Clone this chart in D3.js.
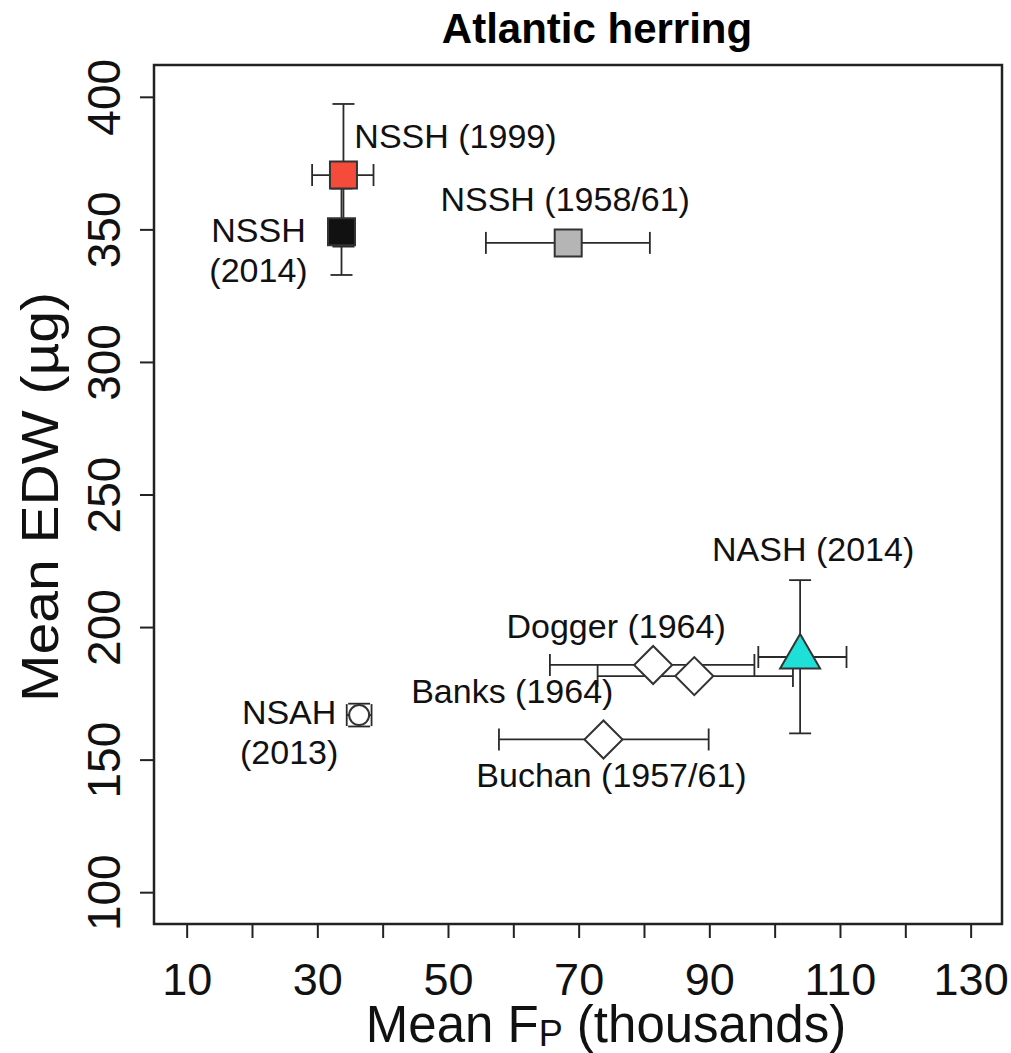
<!DOCTYPE html>
<html lang="en">
<head>
    <meta charset="UTF-8" />
    <title>Atlantic herring</title>
    <script src="https://d3js.org/d3.v7.min.js"></script>
    <style>
        body { margin: 0; background: #fff; }
    </style>
</head>
<body>
    <div id="chart"></div>
    <script>
        // values
        const stocks = ["NSSH (1999)", "NSSH (2014)", "NSSH (1958/61)", "NSAH (2013)",
            "Dogger (1964)", "Banks (1964)", "Buchan (1957/61)", "NASH (2014)"]
        const fp = [34.0, 33.7, 68.4, 36.4, 81.4, 87.7, 73.8, 103.9]
        const fpLow = [29.2, 32.2, 55.8, 34.5, 65.6, 72.9, 57.8, 97.5]
        const fpHigh = [38.6, 35.2, 80.9, 38.3, 96.9, 102.8, 89.9, 111.0]
        const edw = [370.5, 349.1, 344.9, 166.8, 185.7, 181.5, 157.6, 188.7]
        const edwLow = [343.5, 332.8, null, 162.5, null, null, null, 159.9]
        const edwHigh = [397.3, 365.4, null, 171.1, null, null, null, 217.7]
        const xTicks = [10, 20, 30, 40, 50, 60, 70, 80, 90, 100, 110, 120, 130]
        const yTicks = [100, 150, 200, 250, 300, 350, 400]

        // marker styles, same order as stocks
        const shapes = ["square", "square", "square", "circle", "diamond", "diamond", "diamond", "triangle"]
        const fills = ["#f44b3b", "#111111", "#b5b5b5", "#ffffff", "#ffffff", "#ffffff", "#ffffff", "#1fe0d8"]

        // label placement relative to the marker (px)
        const labelLayout = [
            { lines: ["NSSH (1999)"], dx: 112, dy: -39 },
            { lines: ["NSSH", "(2014)"], dx: -83, dy: -2 },
            { lines: ["NSSH (1958/61)"], dx: -3, dy: -44 },
            { lines: ["NSAH", "(2013)"], dx: -70, dy: -3 },
            { lines: ["Dogger (1964)"], dx: -37, dy: -39 },
            { lines: ["Banks (1964)"], dx: -182, dy: 15 },
            { lines: ["Buchan (1957/61)"], dx: 8, dy: 35 },
            { lines: ["NASH (2014)"], dx: 13, dy: -108 }
        ]

        const width = 1011
        const height = 1053
        const box = { left: 154, right: 1002, top: 65, bottom: 924 }
        const labelSize = 34
        const cap = 11

        const x = d3.scaleLinear()
            .domain([5, 134.8])
            .range([box.left, box.right])

        const y = d3.scaleLinear()
            .domain([88, 412])
            .range([box.bottom, box.top])

        const data = stocks.map((name, i) => ({
            name: name,
            x: fp[i], xlo: fpLow[i], xhi: fpHigh[i],
            y: edw[i], ylo: edwLow[i], yhi: edwHigh[i],
            shape: shapes[i], fill: fills[i], layout: labelLayout[i]
        }))

        const svg = d3.select("#chart").append("svg")
            .attr("width", width)
            .attr("height", height)
            .attr("viewBox", [0, 0, width, height])
            .style("font-family", "'Liberation Sans', Arial, sans-serif")

        // title
        svg.append("text")
            .attr("x", 597)
            .attr("y", 43)
            .attr("text-anchor", "middle")
            .attr("font-weight", "bold")
            .attr("font-size", 42)
            .text("Atlantic herring")

        // axes
        const xAxis = g => g
            .attr("transform", `translate(0,${box.bottom})`)
            .call(d3.axisBottom(x).tickValues(xTicks).tickSize(14)
                .tickFormat(d => (d - 10) % 20 === 0 ? d : ""))
            .call(g => g.select(".domain").remove())
            .call(g => g.selectAll(".tick line").attr("stroke", "#222").attr("stroke-width", 2))
            .call(g => g.selectAll(".tick text")
                .attr("y", 71)
                .attr("dy", null)
                .attr("fill", "#111")
                .attr("font-size", 45))

        const yAxis = g => g
            .attr("transform", `translate(${box.left},0)`)
            .call(d3.axisLeft(y).tickValues(yTicks).tickSize(14))
            .call(g => g.select(".domain").remove())
            .call(g => g.selectAll(".tick line").attr("stroke", "#222").attr("stroke-width", 2))
            .call(g => g.selectAll(".tick text")
                .attr("x", null)
                .attr("dy", null)
                .attr("text-anchor", "middle")
                .attr("transform", "translate(-34,0) rotate(-90)")
                .attr("fill", "#111")
                .attr("font-size", 46))

        svg.append("g").call(xAxis)
        svg.append("g").call(yAxis)

        // plot frame
        svg.append("rect")
            .attr("x", box.left)
            .attr("y", box.top)
            .attr("width", box.right - box.left)
            .attr("height", box.bottom - box.top)
            .attr("fill", "none")
            .attr("stroke", "#222")
            .attr("stroke-width", 2.5)

        // axis titles
        const xTitle = svg.append("text")
            .attr("x", 606)
            .attr("y", 1042)
            .attr("text-anchor", "middle")
            .attr("font-size", 51)
            .attr("fill", "#111")
        xTitle.append("tspan").text("Mean F")
        xTitle.append("tspan").attr("font-size", 36).attr("dy", 4).text("P")
        xTitle.append("tspan").attr("dy", -4).text(" (thousands)")

        svg.append("text")
            .attr("transform", "translate(58,497) rotate(-90)")
            .attr("text-anchor", "middle")
            .attr("font-size", 52)
            .attr("textLength", 410)
            .attr("lengthAdjust", "spacingAndGlyphs")
            .attr("fill", "#111")
            .text("Mean EDW (\u00b5g)")

        // error bars
        const bars = svg.append("g")
            .attr("stroke", "#2a2a2a")
            .attr("stroke-width", 1.8)
            .attr("fill", "none")

        data.forEach(d => {
            const cx = x(d.x), cy = y(d.y)
            if (d.xlo != null) {
                bars.append("line").attr("x1", x(d.xlo)).attr("x2", x(d.xhi)).attr("y1", cy).attr("y2", cy)
                bars.append("line").attr("x1", x(d.xlo)).attr("x2", x(d.xlo)).attr("y1", cy - cap).attr("y2", cy + cap)
                bars.append("line").attr("x1", x(d.xhi)).attr("x2", x(d.xhi)).attr("y1", cy - cap).attr("y2", cy + cap)
            }
            if (d.ylo != null) {
                bars.append("line").attr("x1", cx).attr("x2", cx).attr("y1", y(d.ylo)).attr("y2", y(d.yhi))
                bars.append("line").attr("x1", cx - cap).attr("x2", cx + cap).attr("y1", y(d.ylo)).attr("y2", y(d.ylo))
                bars.append("line").attr("x1", cx - cap).attr("x2", cx + cap).attr("y1", y(d.yhi)).attr("y2", y(d.yhi))
            }
        })

        // markers
        const symbolPath = {
            square: d3.symbol().type(d3.symbolSquare).size(729)(),
            diamond: d3.symbol().type(d3.symbolSquare).size(722)(),
            triangle: d3.symbol().type(d3.symbolTriangle).size(693)(),
            circle: d3.symbol().type(d3.symbolCircle).size(314)()
        }

        svg.append("g")
            .selectAll("path")
            .data(data)
            .join("path")
            .attr("transform", d => `translate(${x(d.x)},${y(d.y)})` + (d.shape === "diamond" ? " rotate(45)" : ""))
            .attr("d", d => symbolPath[d.shape])
            .attr("fill", d => d.fill)
            .attr("stroke", "#333")
            .attr("stroke-width", 2)

        // labels
        const labels = svg.append("g")
            .attr("font-size", labelSize)
            .attr("fill", "#111")
            .attr("text-anchor", "middle")

        data.forEach(d => {
            const t = labels.append("text")
                .attr("x", x(d.x) + d.layout.dx)
                .attr("y", y(d.y) + d.layout.dy + labelSize * 0.36)
            d.layout.lines.forEach((line, k) => {
                t.append("tspan")
                    .attr("x", x(d.x) + d.layout.dx)
                    .attr("dy", k === 0 ? 0 : 40)
                    .text(line)
            })
        })
    </script>
</body>
</html>
